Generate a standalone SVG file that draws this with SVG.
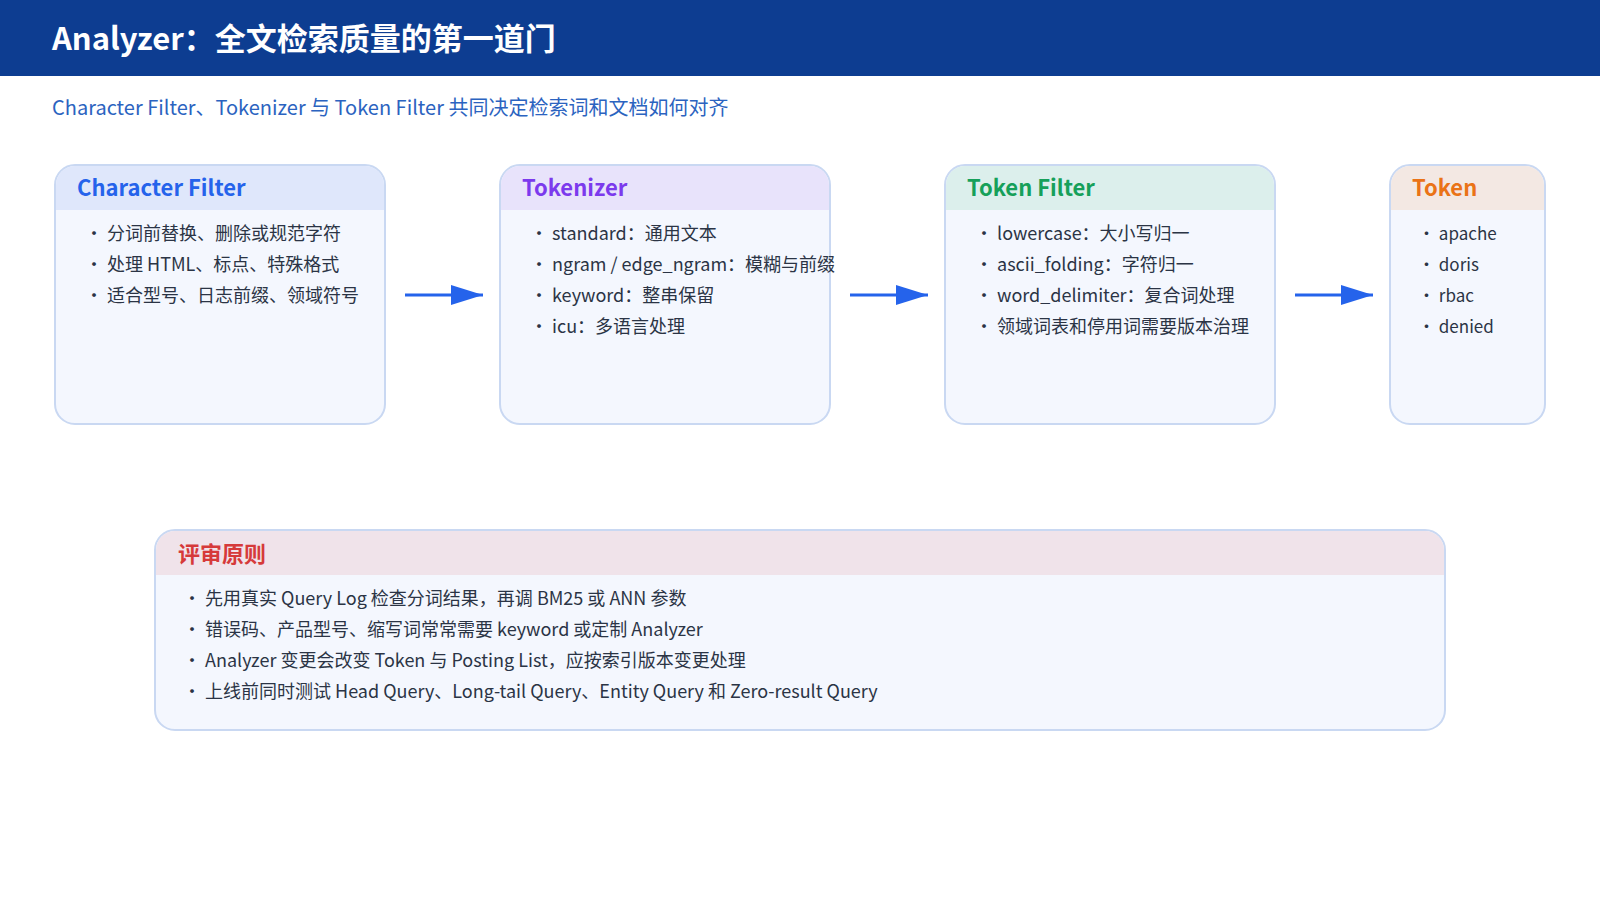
<svg xmlns="http://www.w3.org/2000/svg" width="1600" height="900" viewBox="0 0 1600 900">
<defs>
<style>
text{font-family:"Noto Sans CJK SC","Noto Sans",sans-serif}
.box{fill:#f4f7fe;stroke:#c9d8f2;stroke-width:2}
.hd{font-size:22px;font-weight:700}
.it{font-size:18px;fill:#2b3445}
.sm{font-size:17px;fill:#2b3445}
.ar{stroke:#2563eb;stroke-width:3;fill:none}
</style>
<marker id="ah" viewBox="0 0 10 10" refX="9" refY="5" markerWidth="10" markerHeight="7" markerUnits="userSpaceOnUse" orient="auto">
<path d="M0,0L10,5L0,10z" fill="#2563eb"/>
</marker>
<marker id="ah2" viewBox="0 0 32 20" refX="32" refY="10" markerWidth="32" markerHeight="20" markerUnits="userSpaceOnUse" orient="auto">
<path d="M0,0L32,10L0,20z" fill="#2563eb"/>
</marker>
</defs>
<rect width="1600" height="900" fill="#fff"/>
<rect width="1600" height="76" fill="#0d3d91"/>
<text x="52" y="50" font-size="31" font-weight="700" fill="#fff">Analyzer：全文检索质量的第一道门</text>
<text x="52" y="115" font-size="20" fill="#2b63c0">Character Filter、Tokenizer 与 Token Filter 共同决定检索词和文档如何对齐</text>

<g id="charfilter">
<rect class="box" x="55" y="165" width="330" height="259" rx="20"/>
<path d="M56,210V185a19,19 0 0 1 19,-19H365a19,19 0 0 1 19,19V210z" fill="#dfe7fb"/>
<text class="hd" x="77" y="196" fill="#2563eb">Character Filter</text>
<text class="it" x="85" y="240">·  分词前替换、删除或规范字符</text>
<text class="it" x="85" y="271">·  处理 HTML、标点、特殊格式</text>
<text class="it" x="85" y="302">·  适合型号、日志前缀、领域符号</text>
</g>
<g id="tokenizer">
<rect class="box" x="500" y="165" width="330" height="259" rx="20"/>
<path d="M501,210V185a19,19 0 0 1 19,-19H810a19,19 0 0 1 19,19V210z" fill="#e8e3fb"/>
<text class="hd" x="522" y="196" fill="#7c3aed">Tokenizer</text>
<text class="it" x="530" y="240">·  standard：通用文本</text>
<text class="it" x="530" y="271">·  ngram / edge_ngram：模糊与前缀</text>
<text class="it" x="530" y="302">·  keyword：整串保留</text>
<text class="it" x="530" y="333">·  icu：多语言处理</text>
</g>
<g id="tokenfilter">
<rect class="box" x="945" y="165" width="330" height="259" rx="20"/>
<path d="M946,210V185a19,19 0 0 1 19,-19H1255a19,19 0 0 1 19,19V210z" fill="#dcefec"/>
<text class="hd" x="967" y="196" fill="#16a05a">Token Filter</text>
<text class="it" x="975" y="240">·  lowercase：大小写归一</text>
<text class="it" x="975" y="271">·  ascii_folding：字符归一</text>
<text class="it" x="975" y="302">·  word_delimiter：复合词处理</text>
<text class="it" x="975" y="333">·  领域词表和停用词需要版本治理</text>
</g>
<g id="token">
<rect class="box" x="1390" y="165" width="155" height="259" rx="20"/>
<path d="M1391,210V185a19,19 0 0 1 19,-19H1525a19,19 0 0 1 19,19V210z" fill="#f3e8e3"/>
<text class="hd" x="1412" y="196" fill="#ea7317">Token</text>
<text class="sm" x="1418" y="240">·  apache</text>
<text class="sm" x="1418" y="271">·  doris</text>
<text class="sm" x="1418" y="302">·  rbac</text>
<text class="sm" x="1418" y="333">·  denied</text>
</g>
<g id="connectors">
<line class="ar" x1="405" y1="295" x2="483" y2="295" marker-end="url(#ah2)"/>
<line class="ar" x1="850" y1="295" x2="928" y2="295" marker-end="url(#ah2)"/>
<line class="ar" x1="1295" y1="295" x2="1373" y2="295" marker-end="url(#ah2)"/>
</g>
<g id="principles">
<rect class="box" x="155" y="530" width="1290" height="200" rx="20"/>
<path d="M156,575V550a19,19 0 0 1 19,-19H1425a19,19 0 0 1 19,19V575z" fill="#f0e3ea"/>
<text class="hd" x="178" y="562" fill="#d63a3a">评审原则</text>
<text class="it" x="183" y="605">·  先用真实 Query Log 检查分词结果，再调 BM25 或 ANN 参数</text>
<text class="it" x="183" y="636">·  错误码、产品型号、缩写词常常需要 keyword 或定制 Analyzer</text>
<text class="it" x="183" y="667">·  Analyzer 变更会改变 Token 与 Posting List，应按索引版本变更处理</text>
<text class="it" x="183" y="698">·  上线前同时测试 Head Query、Long-tail Query、Entity Query 和 Zero-result Query</text>
</g>
</svg>
